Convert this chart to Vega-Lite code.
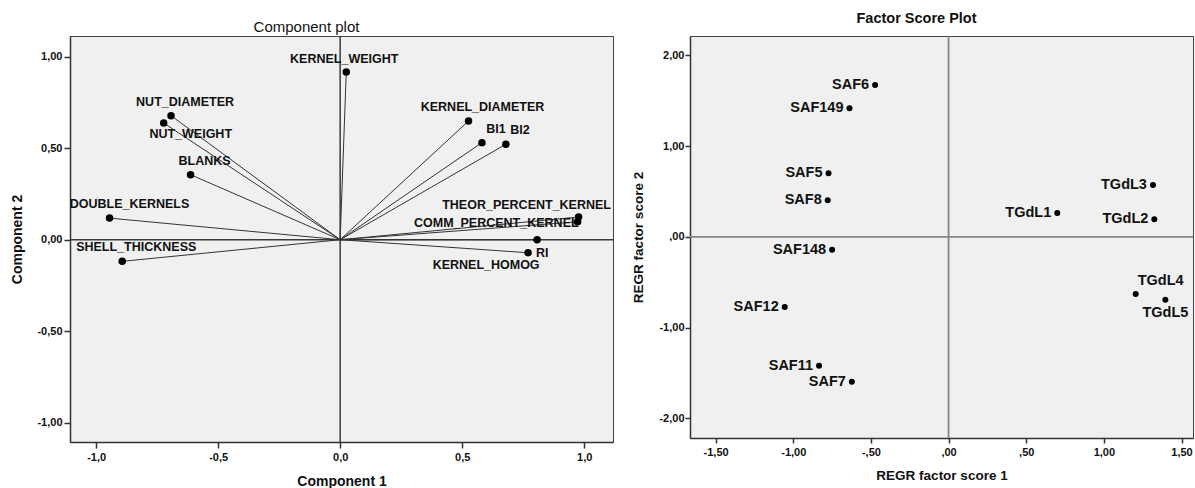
{
  "$schema": "https://vega.github.io/schema/vega-lite/v6.json",
  "background": "white",
  "padding": {"left": 10, "top": 10, "right": 0, "bottom": 0},
  "spacing": 77,
  "bounds": "flush",
  "datasets": {
    "loadings": [
      {"var": "KERNEL_WEIGHT", "c1": 0.025, "c2": 0.915},
      {"var": "NUT_DIAMETER", "c1": -0.693, "c2": 0.677},
      {"var": "NUT_WEIGHT", "c1": -0.723, "c2": 0.637},
      {"var": "BLANKS", "c1": -0.613, "c2": 0.355},
      {"var": "DOUBLE_KERNELS", "c1": -0.945, "c2": 0.118},
      {"var": "SHELL_THICKNESS", "c1": -0.893, "c2": -0.118},
      {"var": "KERNEL_DIAMETER", "c1": 0.526, "c2": 0.648},
      {"var": "BI1", "c1": 0.581, "c2": 0.53},
      {"var": "BI2", "c1": 0.679, "c2": 0.521},
      {"var": "THEOR_PERCENT_KERNEL", "c1": 0.977, "c2": 0.124},
      {"var": "COMM_PERCENT_KERNEL", "c1": 0.973, "c2": 0.098},
      {"var": "KERNEL_HOMOG", "c1": 0.807, "c2": 0.0},
      {"var": "RI", "c1": 0.77, "c2": -0.071}
    ],
    "scores": [
      {"case": "SAF6", "s1": -0.473, "s2": 1.674},
      {"case": "SAF149", "s1": -0.638, "s2": 1.417},
      {"case": "SAF5", "s1": -0.773, "s2": 0.702},
      {"case": "SAF8", "s1": -0.778, "s2": 0.404},
      {"case": "SAF148", "s1": -0.75, "s2": -0.143},
      {"case": "SAF12", "s1": -1.055, "s2": -0.774},
      {"case": "SAF11", "s1": -0.834, "s2": -1.421},
      {"case": "SAF7", "s1": -0.623, "s2": -1.597},
      {"case": "TGdL1", "s1": 0.7, "s2": 0.264},
      {"case": "TGdL3", "s1": 1.316, "s2": 0.573},
      {"case": "TGdL2", "s1": 1.325, "s2": 0.195},
      {"case": "TGdL4", "s1": 1.205, "s2": -0.631},
      {"case": "TGdL5", "s1": 1.396, "s2": -0.694}
    ]
  },
  "config": {
    "view": {"stroke": "#444", "strokeWidth": 1, "fill": "#f0f0f0"},
    "axis": {
      "grid": false,
      "domainColor": "#333",
      "domainWidth": 1.5,
      "tickColor": "#333",
      "tickWidth": 1.5,
      "labelFont": "Liberation Sans",
      "labelFontWeight": "bold",
      "labelFontSize": 11,
      "labelColor": "#111",
      "titleFont": "Liberation Sans",
      "titleFontWeight": "bold",
      "titleColor": "#111"
    },
    "title": {"font": "Liberation Sans", "color": "#111"}
  },
  "hconcat": [
    {
      "width": 543,
      "height": 406,
      "title": {"text": "Component plot", "fontSize": 15, "fontWeight": "normal", "offset": 0, "dx": -35},
      "layer": [
        {
          "data": {"values": [{}]},
          "mark": {"type": "rule", "color": "#3a3a3a", "strokeWidth": 1.5},
          "encoding": {"x": {"datum": 0, "type": "quantitative"}}
        },
        {
          "data": {"values": [{}]},
          "mark": {"type": "rule", "color": "#3a3a3a", "strokeWidth": 1.5},
          "encoding": {"y": {"datum": 0, "type": "quantitative"}}
        },
        {
          "data": {"name": "loadings"},
          "mark": {"type": "rule", "color": "#333", "strokeWidth": 1},
          "encoding": {
            "x": {
              "field": "c1", "type": "quantitative",
              "scale": {"domain": [-1.107, 1.118], "nice": false, "zero": false},
              "axis": {
                "values": [-1, -0.5, 0, 0.5, 1],
                "labelExpr": "(datum.value<0?'-':'')+replace(format(abs(datum.value),'.1f'),'.',',')",
                "title": "Component 1", "titleFontSize": 14,
                "tickSize": 6, "labelPadding": 3, "titlePadding": 12
              }
            },
            "y": {
              "field": "c2", "type": "quantitative",
              "scale": {"domain": [-1.104, 1.112], "nice": false, "zero": false},
              "axis": {
                "values": [-1, -0.5, 0, 0.5, 1],
                "labelExpr": "(datum.value<0?'-':'')+replace(format(abs(datum.value),'.2f'),'.',',')",
                "title": "Component 2", "titleFontSize": 14,
                "tickSize": 6, "labelPadding": 2, "titlePadding": 12
              }
            },
            "x2": {"datum": 0},
            "y2": {"datum": 0}
          }
        },
        {
          "data": {"name": "loadings"},
          "mark": {"type": "circle", "color": "#000", "opacity": 1, "size": 56},
          "encoding": {
            "x": {"field": "c1", "type": "quantitative"},
            "y": {"field": "c2", "type": "quantitative"}
          }
        },
        {
          "data": {"name": "loadings"},
          "transform": [{"filter": {"field": "var", "oneOf": ["NUT_DIAMETER", "BLANKS", "SHELL_THICKNESS", "KERNEL_DIAMETER", "BI1", "BI2"]}}],
          "mark": {"type": "text", "font": "Liberation Sans", "fontWeight": "bold", "fontSize": 12.5, "color": "#111", "align": "center", "baseline": "middle", "dx": 14, "dy": -14},
          "encoding": {
            "x": {"field": "c1", "type": "quantitative"},
            "y": {"field": "c2", "type": "quantitative"},
            "text": {"field": "var"}
          }
        },
        {
          "data": {"name": "loadings"},
          "transform": [{"filter": {"field": "var", "oneOf": ["DOUBLE_KERNELS"]}}],
          "mark": {"type": "text", "font": "Liberation Sans", "fontWeight": "bold", "fontSize": 12.5, "color": "#111", "align": "center", "baseline": "middle", "dx": 20, "dy": -14},
          "encoding": {
            "x": {"field": "c1", "type": "quantitative"},
            "y": {"field": "c2", "type": "quantitative"},
            "text": {"field": "var"}
          }
        },
        {
          "data": {"name": "loadings"},
          "transform": [{"filter": {"field": "var", "oneOf": ["KERNEL_WEIGHT"]}}],
          "mark": {"type": "text", "font": "Liberation Sans", "fontWeight": "bold", "fontSize": 12.5, "color": "#111", "align": "center", "baseline": "middle", "dx": -2, "dy": -13},
          "encoding": {
            "x": {"field": "c1", "type": "quantitative"},
            "y": {"field": "c2", "type": "quantitative"},
            "text": {"field": "var"}
          }
        },
        {
          "data": {"name": "loadings"},
          "transform": [{"filter": {"field": "var", "oneOf": ["NUT_WEIGHT"]}}],
          "mark": {"type": "text", "font": "Liberation Sans", "fontWeight": "bold", "fontSize": 12.5, "color": "#111", "align": "center", "baseline": "middle", "dx": 27, "dy": 11},
          "encoding": {
            "x": {"field": "c1", "type": "quantitative"},
            "y": {"field": "c2", "type": "quantitative"},
            "text": {"field": "var"}
          }
        },
        {
          "data": {"name": "loadings"},
          "transform": [{"filter": {"field": "var", "oneOf": ["THEOR_PERCENT_KERNEL"]}}],
          "mark": {"type": "text", "font": "Liberation Sans", "fontWeight": "bold", "fontSize": 12.5, "color": "#111", "align": "center", "baseline": "middle", "dx": -52, "dy": -12},
          "encoding": {
            "x": {"field": "c1", "type": "quantitative"},
            "y": {"field": "c2", "type": "quantitative"},
            "text": {"field": "var"}
          }
        },
        {
          "data": {"name": "loadings"},
          "transform": [{"filter": {"field": "var", "oneOf": ["COMM_PERCENT_KERNEL"]}}],
          "mark": {"type": "text", "font": "Liberation Sans", "fontWeight": "bold", "fontSize": 12.5, "color": "#111", "align": "right", "baseline": "middle", "dx": 1, "dy": 1},
          "encoding": {
            "x": {"field": "c1", "type": "quantitative"},
            "y": {"field": "c2", "type": "quantitative"},
            "text": {"field": "var"}
          }
        },
        {
          "data": {"name": "loadings"},
          "transform": [{"filter": {"field": "var", "oneOf": ["RI"]}}],
          "mark": {"type": "text", "font": "Liberation Sans", "fontWeight": "bold", "fontSize": 12.5, "color": "#111", "align": "left", "baseline": "middle", "dx": 8, "dy": 0},
          "encoding": {
            "x": {"field": "c1", "type": "quantitative"},
            "y": {"field": "c2", "type": "quantitative"},
            "text": {"field": "var"}
          }
        },
        {
          "data": {"name": "loadings"},
          "transform": [{"filter": {"field": "var", "oneOf": ["KERNEL_HOMOG"]}}],
          "mark": {"type": "text", "font": "Liberation Sans", "fontWeight": "bold", "fontSize": 12.5, "color": "#111", "align": "center", "baseline": "middle", "dx": -51, "dy": 25},
          "encoding": {
            "x": {"field": "c1", "type": "quantitative"},
            "y": {"field": "c2", "type": "quantitative"},
            "text": {"field": "var"}
          }
        }
      ]
    },
    {
      "width": 503,
      "height": 402,
      "title": {"text": "Factor Score Plot", "fontSize": 14.5, "fontWeight": "bold", "offset": 9, "dx": -25},
      "layer": [
        {
          "data": {"values": [{}]},
          "mark": {"type": "rule", "color": "#858585", "strokeWidth": 1.8},
          "encoding": {"x": {"datum": 0, "type": "quantitative"}}
        },
        {
          "data": {"values": [{}]},
          "mark": {"type": "rule", "color": "#858585", "strokeWidth": 1.8},
          "encoding": {"y": {"datum": 0, "type": "quantitative"}}
        },
        {
          "data": {"name": "scores"},
          "mark": {"type": "circle", "color": "#000", "opacity": 1, "size": 36},
          "encoding": {
            "x": {
              "field": "s1", "type": "quantitative",
              "scale": {"domain": [-1.665, 1.574], "nice": false, "zero": false},
              "axis": {
                "values": [-1.5, -1, -0.5, 0, 0.5, 1, 1.5],
                "labelExpr": "(datum.value<0?'-':'')+(abs(datum.value)<1?substring(replace(format(abs(datum.value),'.2f'),'.',','),1):replace(format(abs(datum.value),'.2f'),'.',','))",
                "title": "REGR factor score 1", "titleFontSize": 13.5,
                "tickSize": 5, "labelPadding": 3, "titlePadding": 11
              }
            },
            "y": {
              "field": "s2", "type": "quantitative",
              "scale": {"domain": [-2.217, 2.214], "nice": false, "zero": false},
              "axis": {
                "values": [-2, -1, 0, 1, 2],
                "labelExpr": "(datum.value<0?'-':'')+(abs(datum.value)<1?substring(replace(format(abs(datum.value),'.2f'),'.',','),1):replace(format(abs(datum.value),'.2f'),'.',','))",
                "title": "REGR factor score 2", "titleFontSize": 13.5,
                "tickSize": 5, "labelPadding": 1, "titlePadding": 13
              }
            }
          }
        },
        {
          "data": {"name": "scores"},
          "transform": [{"filter": {"field": "case", "oneOf": ["SAF6", "SAF149", "SAF5", "SAF8", "SAF148", "SAF12", "SAF11", "SAF7", "TGdL1", "TGdL2", "TGdL3"]}}],
          "mark": {"type": "text", "font": "Liberation Sans", "fontWeight": "bold", "fontSize": 14.5, "color": "#111", "align": "right", "baseline": "middle", "dx": -6, "dy": 0},
          "encoding": {
            "x": {"field": "s1", "type": "quantitative"},
            "y": {"field": "s2", "type": "quantitative"},
            "text": {"field": "case"}
          }
        },
        {
          "data": {"name": "scores"},
          "transform": [{"filter": {"field": "case", "oneOf": ["TGdL4"]}}],
          "mark": {"type": "text", "font": "Liberation Sans", "fontWeight": "bold", "fontSize": 14.5, "color": "#111", "align": "left", "baseline": "middle", "dx": 2, "dy": -13},
          "encoding": {
            "x": {"field": "s1", "type": "quantitative"},
            "y": {"field": "s2", "type": "quantitative"},
            "text": {"field": "case"}
          }
        },
        {
          "data": {"name": "scores"},
          "transform": [{"filter": {"field": "case", "oneOf": ["TGdL5"]}}],
          "mark": {"type": "text", "font": "Liberation Sans", "fontWeight": "bold", "fontSize": 14.5, "color": "#111", "align": "center", "baseline": "middle", "dx": 0, "dy": 13},
          "encoding": {
            "x": {"field": "s1", "type": "quantitative"},
            "y": {"field": "s2", "type": "quantitative"},
            "text": {"field": "case"}
          }
        }
      ]
    }
  ]
}
